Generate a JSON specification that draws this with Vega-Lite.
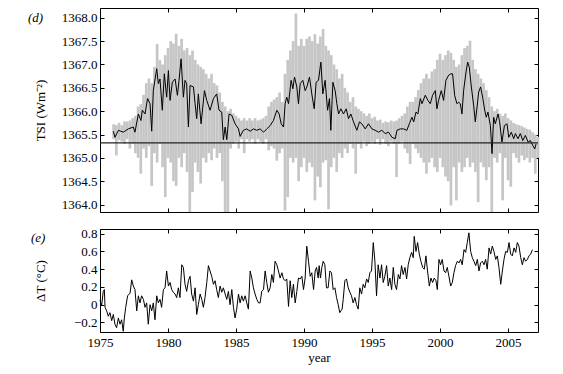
{
"$schema": "https://vega.github.io/schema/vega-lite/v6.json",
"padding": {"left": 27, "top": 7, "right": 24, "bottom": 8},
"spacing": 13,
"datasets": {
"gray": [
{"year":1976.0,"lo":1365.40,"hi":1365.72},{"year":1976.2,"lo":1365.05,"hi":1365.70},{"year":1976.4,"lo":1365.38,"hi":1365.75},{"year":1976.6,"lo":1365.35,"hi":1365.70},{"year":1976.8,"lo":1365.30,"hi":1365.78},
{"year":1977.0,"lo":1365.40,"hi":1365.78},{"year":1977.2,"lo":1365.20,"hi":1365.80},{"year":1977.4,"lo":1365.30,"hi":1365.85},{"year":1977.6,"lo":1365.10,"hi":1365.90},{"year":1977.8,"lo":1365.00,"hi":1366.10},
{"year":1978.0,"lo":1364.66,"hi":1366.15},{"year":1978.2,"lo":1365.20,"hi":1366.35},{"year":1978.4,"lo":1365.00,"hi":1366.60},{"year":1978.6,"lo":1365.25,"hi":1366.70},{"year":1978.8,"lo":1364.40,"hi":1366.60},
{"year":1979.0,"lo":1365.10,"hi":1366.95},{"year":1979.2,"lo":1364.90,"hi":1367.44},{"year":1979.4,"lo":1365.30,"hi":1367.10},{"year":1979.6,"lo":1364.80,"hi":1367.00},{"year":1979.8,"lo":1364.16,"hi":1367.20},
{"year":1980.0,"lo":1365.00,"hi":1367.35},{"year":1980.2,"lo":1364.90,"hi":1367.50},{"year":1980.4,"lo":1364.50,"hi":1367.45},{"year":1980.6,"lo":1364.40,"hi":1367.66},{"year":1980.8,"lo":1365.00,"hi":1367.40},
{"year":1981.0,"lo":1364.80,"hi":1367.55},{"year":1981.2,"lo":1365.10,"hi":1367.30},{"year":1981.4,"lo":1364.70,"hi":1367.35},{"year":1981.6,"lo":1363.84,"hi":1367.20},{"year":1981.8,"lo":1364.27,"hi":1367.30},
{"year":1982.0,"lo":1364.90,"hi":1367.10},{"year":1982.2,"lo":1364.70,"hi":1367.00},{"year":1982.4,"lo":1364.45,"hi":1366.95},{"year":1982.6,"lo":1365.00,"hi":1366.90},{"year":1982.8,"lo":1364.90,"hi":1366.80},
{"year":1983.0,"lo":1365.10,"hi":1366.70},{"year":1983.2,"lo":1364.95,"hi":1366.80},{"year":1983.4,"lo":1365.20,"hi":1366.60},{"year":1983.6,"lo":1365.00,"hi":1366.55},{"year":1983.8,"lo":1365.10,"hi":1366.40},
{"year":1984.0,"lo":1364.50,"hi":1366.20},{"year":1984.2,"lo":1363.84,"hi":1366.10},{"year":1984.4,"lo":1363.84,"hi":1366.00},{"year":1984.6,"lo":1365.20,"hi":1366.05},{"year":1984.8,"lo":1365.30,"hi":1365.95},
{"year":1985.0,"lo":1365.35,"hi":1365.90},{"year":1985.2,"lo":1365.20,"hi":1365.85},{"year":1985.4,"lo":1365.40,"hi":1365.80},{"year":1985.6,"lo":1365.10,"hi":1365.85},{"year":1985.8,"lo":1365.40,"hi":1365.80},
{"year":1986.0,"lo":1365.35,"hi":1365.85},{"year":1986.2,"lo":1365.40,"hi":1365.80},{"year":1986.4,"lo":1365.30,"hi":1365.85},{"year":1986.6,"lo":1365.40,"hi":1365.80},{"year":1986.8,"lo":1365.35,"hi":1365.82},
{"year":1987.0,"lo":1365.30,"hi":1365.85},{"year":1987.2,"lo":1365.40,"hi":1365.90},{"year":1987.4,"lo":1365.16,"hi":1366.10},{"year":1987.6,"lo":1365.25,"hi":1366.20},{"year":1987.8,"lo":1365.20,"hi":1366.25},
{"year":1988.0,"lo":1364.94,"hi":1366.30},{"year":1988.2,"lo":1365.10,"hi":1366.40},{"year":1988.4,"lo":1365.20,"hi":1366.20},{"year":1988.6,"lo":1363.87,"hi":1366.80},{"year":1988.8,"lo":1364.16,"hi":1367.10},
{"year":1989.0,"lo":1365.00,"hi":1367.30},{"year":1989.2,"lo":1364.90,"hi":1367.50},{"year":1989.4,"lo":1365.00,"hi":1368.09},{"year":1989.6,"lo":1364.50,"hi":1367.40},{"year":1989.8,"lo":1364.80,"hi":1367.55},
{"year":1990.0,"lo":1365.00,"hi":1367.40},{"year":1990.2,"lo":1364.70,"hi":1367.55},{"year":1990.4,"lo":1364.90,"hi":1367.60},{"year":1990.6,"lo":1364.80,"hi":1367.50},{"year":1990.8,"lo":1364.09,"hi":1367.65},
{"year":1991.0,"lo":1364.60,"hi":1367.45},{"year":1991.2,"lo":1364.37,"hi":1367.60},{"year":1991.4,"lo":1364.90,"hi":1367.76},{"year":1991.6,"lo":1364.95,"hi":1367.40},{"year":1991.8,"lo":1363.90,"hi":1367.30},
{"year":1992.0,"lo":1364.80,"hi":1367.20},{"year":1992.2,"lo":1365.00,"hi":1367.00},{"year":1992.4,"lo":1364.70,"hi":1366.90},{"year":1992.6,"lo":1365.10,"hi":1366.70},{"year":1992.8,"lo":1365.00,"hi":1366.80},
{"year":1993.0,"lo":1365.20,"hi":1366.50},{"year":1993.2,"lo":1365.10,"hi":1366.40},{"year":1993.4,"lo":1365.30,"hi":1366.20},{"year":1993.6,"lo":1365.20,"hi":1366.30},{"year":1993.8,"lo":1364.66,"hi":1366.10},
{"year":1994.0,"lo":1365.30,"hi":1366.05},{"year":1994.2,"lo":1365.20,"hi":1366.00},{"year":1994.4,"lo":1365.35,"hi":1365.95},{"year":1994.6,"lo":1365.25,"hi":1365.90},{"year":1994.8,"lo":1365.30,"hi":1365.95},
{"year":1995.0,"lo":1365.35,"hi":1365.85},{"year":1995.2,"lo":1365.30,"hi":1365.88},{"year":1995.4,"lo":1365.40,"hi":1365.80},{"year":1995.6,"lo":1365.28,"hi":1365.82},{"year":1995.8,"lo":1365.40,"hi":1365.75},
{"year":1996.0,"lo":1365.30,"hi":1365.78},{"year":1996.2,"lo":1365.25,"hi":1365.76},{"year":1996.4,"lo":1365.35,"hi":1365.80},{"year":1996.6,"lo":1365.30,"hi":1365.78},{"year":1996.8,"lo":1364.59,"hi":1365.80},
{"year":1997.0,"lo":1365.30,"hi":1365.85},{"year":1997.2,"lo":1365.35,"hi":1365.90},{"year":1997.4,"lo":1365.20,"hi":1365.95},{"year":1997.6,"lo":1365.10,"hi":1366.10},{"year":1997.8,"lo":1364.87,"hi":1366.20},
{"year":1998.0,"lo":1365.30,"hi":1366.20},{"year":1998.2,"lo":1365.20,"hi":1366.30},{"year":1998.4,"lo":1365.10,"hi":1366.45},{"year":1998.6,"lo":1365.00,"hi":1366.60},{"year":1998.8,"lo":1364.90,"hi":1366.70},
{"year":1999.0,"lo":1364.66,"hi":1366.80},{"year":1999.2,"lo":1364.90,"hi":1366.70},{"year":1999.4,"lo":1365.00,"hi":1366.85},{"year":1999.6,"lo":1364.80,"hi":1366.90},{"year":1999.8,"lo":1364.70,"hi":1367.10},
{"year":2000.0,"lo":1365.00,"hi":1367.23},{"year":2000.2,"lo":1364.80,"hi":1367.10},{"year":2000.4,"lo":1364.60,"hi":1367.20},{"year":2000.6,"lo":1364.50,"hi":1367.30},{"year":2000.8,"lo":1363.98,"hi":1367.25},
{"year":2001.0,"lo":1364.80,"hi":1367.10},{"year":2001.2,"lo":1364.09,"hi":1366.95},{"year":2001.4,"lo":1364.90,"hi":1367.00},{"year":2001.6,"lo":1364.70,"hi":1367.20},{"year":2001.8,"lo":1364.80,"hi":1367.35},
{"year":2002.0,"lo":1365.00,"hi":1367.40},{"year":2002.2,"lo":1364.80,"hi":1367.51},{"year":2002.4,"lo":1364.90,"hi":1367.10},{"year":2002.6,"lo":1364.70,"hi":1366.90},{"year":2002.8,"lo":1364.05,"hi":1366.80},
{"year":2003.0,"lo":1364.90,"hi":1366.70},{"year":2003.2,"lo":1364.80,"hi":1366.60},{"year":2003.4,"lo":1364.52,"hi":1366.45},{"year":2003.6,"lo":1364.80,"hi":1366.30},{"year":2003.8,"lo":1363.84,"hi":1366.10},
{"year":2004.0,"lo":1365.00,"hi":1366.00},{"year":2004.2,"lo":1364.90,"hi":1366.05},{"year":2004.4,"lo":1365.10,"hi":1365.95},{"year":2004.6,"lo":1364.09,"hi":1365.90},{"year":2004.8,"lo":1365.00,"hi":1365.95},
{"year":2005.0,"lo":1364.52,"hi":1365.85},{"year":2005.2,"lo":1364.38,"hi":1365.80},{"year":2005.4,"lo":1365.10,"hi":1365.75},{"year":2005.6,"lo":1365.00,"hi":1365.72},{"year":2005.8,"lo":1364.90,"hi":1365.70},
{"year":2006.0,"lo":1365.05,"hi":1365.68},{"year":2006.2,"lo":1364.95,"hi":1365.65},{"year":2006.4,"lo":1365.00,"hi":1365.62},{"year":2006.6,"lo":1364.90,"hi":1365.60},{"year":2006.8,"lo":1365.00,"hi":1365.55},
{"year":2007.0,"lo":1364.66,"hi":1365.50},{"year":2007.2,"lo":1365.00,"hi":1365.45}
],
"tsi": [
{"year":1975.98,"tsi":1365.57},{"year":1976.10,"tsi":1365.44},{"year":1976.35,"tsi":1365.59},{"year":1976.71,"tsi":1365.55},{"year":1977.08,"tsi":1365.62},{"year":1977.45,"tsi":1365.66},{"year":1977.57,"tsi":1365.55},{"year":1977.82,"tsi":1365.94},{"year":1978.01,"tsi":1365.80},{"year":1978.11,"tsi":1366.02},
{"year":1978.31,"tsi":1365.94},{"year":1978.50,"tsi":1366.27},{"year":1978.68,"tsi":1366.16},{"year":1978.80,"tsi":1365.57},{"year":1978.92,"tsi":1366.44},{"year":1979.17,"tsi":1366.91},{"year":1979.29,"tsi":1366.59},{"year":1979.41,"tsi":1366.69},{"year":1979.58,"tsi":1366.02},{"year":1979.73,"tsi":1366.80},
{"year":1979.90,"tsi":1366.30},{"year":1980.03,"tsi":1366.87},{"year":1980.15,"tsi":1366.23},{"year":1980.32,"tsi":1366.62},{"year":1980.52,"tsi":1366.69},{"year":1980.69,"tsi":1366.34},{"year":1980.81,"tsi":1366.66},{"year":1980.96,"tsi":1367.12},{"year":1981.13,"tsi":1366.30},{"year":1981.25,"tsi":1366.66},
{"year":1981.37,"tsi":1366.59},{"year":1981.50,"tsi":1365.66},{"year":1981.62,"tsi":1366.55},{"year":1981.87,"tsi":1366.52},{"year":1981.99,"tsi":1366.16},{"year":1982.11,"tsi":1365.84},{"year":1982.23,"tsi":1366.37},{"year":1982.43,"tsi":1365.73},{"year":1982.68,"tsi":1366.44},{"year":1982.85,"tsi":1366.23},
{"year":1983.09,"tsi":1366.02},{"year":1983.34,"tsi":1366.27},{"year":1983.58,"tsi":1366.37},{"year":1983.75,"tsi":1366.02},{"year":1983.95,"tsi":1365.98},{"year":1984.07,"tsi":1365.39},{"year":1984.20,"tsi":1365.66},{"year":1984.32,"tsi":1365.39},{"year":1984.49,"tsi":1365.94},{"year":1984.69,"tsi":1365.91},
{"year":1984.93,"tsi":1365.73},{"year":1985.18,"tsi":1365.62},{"year":1985.30,"tsi":1365.46},{"year":1985.54,"tsi":1365.59},{"year":1985.79,"tsi":1365.62},{"year":1986.04,"tsi":1365.57},{"year":1986.28,"tsi":1365.62},{"year":1986.53,"tsi":1365.59},{"year":1986.77,"tsi":1365.62},{"year":1987.02,"tsi":1365.55},
{"year":1987.26,"tsi":1365.62},{"year":1987.51,"tsi":1365.69},{"year":1987.75,"tsi":1365.80},{"year":1988.00,"tsi":1366.02},{"year":1988.17,"tsi":1365.94},{"year":1988.32,"tsi":1365.73},{"year":1988.49,"tsi":1365.66},{"year":1988.61,"tsi":1366.16},{"year":1988.73,"tsi":1366.30},{"year":1988.86,"tsi":1366.16},
{"year":1989.05,"tsi":1366.66},{"year":1989.18,"tsi":1366.48},{"year":1989.30,"tsi":1366.73},{"year":1989.47,"tsi":1366.52},{"year":1989.59,"tsi":1366.16},{"year":1989.72,"tsi":1366.59},{"year":1989.91,"tsi":1366.66},{"year":1990.08,"tsi":1366.44},{"year":1990.21,"tsi":1366.52},{"year":1990.40,"tsi":1366.73},
{"year":1990.57,"tsi":1366.37},{"year":1990.75,"tsi":1366.05},{"year":1990.89,"tsi":1366.62},{"year":1991.06,"tsi":1366.66},{"year":1991.24,"tsi":1367.05},{"year":1991.38,"tsi":1366.37},{"year":1991.55,"tsi":1366.66},{"year":1991.73,"tsi":1366.02},{"year":1991.87,"tsi":1366.27},{"year":1991.97,"tsi":1365.59},
{"year":1992.12,"tsi":1366.62},{"year":1992.29,"tsi":1366.44},{"year":1992.41,"tsi":1366.16},{"year":1992.54,"tsi":1365.94},{"year":1992.71,"tsi":1366.05},{"year":1992.90,"tsi":1365.94},{"year":1993.10,"tsi":1366.05},{"year":1993.27,"tsi":1365.84},{"year":1993.44,"tsi":1365.94},{"year":1993.64,"tsi":1365.77},
{"year":1993.88,"tsi":1365.59},{"year":1994.08,"tsi":1365.77},{"year":1994.25,"tsi":1365.73},{"year":1994.50,"tsi":1365.62},{"year":1994.74,"tsi":1365.73},{"year":1994.99,"tsi":1365.62},{"year":1995.23,"tsi":1365.59},{"year":1995.48,"tsi":1365.55},{"year":1995.72,"tsi":1365.59},{"year":1995.97,"tsi":1365.52},
{"year":1996.22,"tsi":1365.55},{"year":1996.46,"tsi":1365.44},{"year":1996.71,"tsi":1365.41},{"year":1996.83,"tsi":1365.59},{"year":1997.07,"tsi":1365.62},{"year":1997.32,"tsi":1365.62},{"year":1997.56,"tsi":1365.59},{"year":1997.74,"tsi":1365.73},{"year":1997.93,"tsi":1365.87},{"year":1998.06,"tsi":1365.77},
{"year":1998.23,"tsi":1365.98},{"year":1998.37,"tsi":1365.94},{"year":1998.55,"tsi":1366.27},{"year":1998.67,"tsi":1366.16},{"year":1998.91,"tsi":1366.34},{"year":1999.11,"tsi":1366.23},{"year":1999.28,"tsi":1366.16},{"year":1999.45,"tsi":1366.34},{"year":1999.65,"tsi":1366.44},{"year":1999.77,"tsi":1366.05},
{"year":1999.89,"tsi":1366.23},{"year":2000.09,"tsi":1366.44},{"year":2000.26,"tsi":1366.23},{"year":2000.43,"tsi":1366.66},{"year":2000.63,"tsi":1366.77},{"year":2000.80,"tsi":1366.80},{"year":2000.92,"tsi":1366.80},{"year":2001.07,"tsi":1366.34},{"year":2001.24,"tsi":1366.16},{"year":2001.37,"tsi":1366.19},
{"year":2001.49,"tsi":1366.16},{"year":2001.61,"tsi":1365.94},{"year":2001.73,"tsi":1366.44},{"year":2001.91,"tsi":1366.84},{"year":2002.03,"tsi":1367.05},{"year":2002.15,"tsi":1366.94},{"year":2002.30,"tsi":1366.52},{"year":2002.47,"tsi":1366.12},{"year":2002.59,"tsi":1365.77},{"year":2002.72,"tsi":1366.09},
{"year":2002.84,"tsi":1366.41},{"year":2002.98,"tsi":1366.52},{"year":2003.13,"tsi":1366.30},{"year":2003.28,"tsi":1366.02},{"year":2003.40,"tsi":1365.87},{"year":2003.52,"tsi":1365.98},{"year":2003.70,"tsi":1365.69},{"year":2003.82,"tsi":1365.09},{"year":2003.94,"tsi":1365.87},{"year":2004.06,"tsi":1365.73},
{"year":2004.26,"tsi":1365.94},{"year":2004.38,"tsi":1365.77},{"year":2004.55,"tsi":1365.34},{"year":2004.73,"tsi":1365.69},{"year":2004.92,"tsi":1365.73},{"year":2005.05,"tsi":1365.44},{"year":2005.24,"tsi":1365.55},{"year":2005.41,"tsi":1365.41},{"year":2005.54,"tsi":1365.52},{"year":2005.73,"tsi":1365.41},
{"year":2005.90,"tsi":1365.52},{"year":2006.08,"tsi":1365.37},{"year":2006.27,"tsi":1365.48},{"year":2006.47,"tsi":1365.34},{"year":2006.64,"tsi":1365.37},{"year":2006.81,"tsi":1365.27},{"year":2006.96,"tsi":1365.19},{"year":2007.06,"tsi":1365.30}
],
"temp": [
{"year":1975.00,"dt":0.05},{"year":1975.12,"dt":-0.01},{"year":1975.24,"dt":0.15},{"year":1975.32,"dt":0.17},{"year":1975.37,"dt":-0.03},{"year":1975.49,"dt":-0.07},{"year":1975.61,"dt":-0.13},{"year":1975.73,"dt":-0.09},{"year":1975.86,"dt":-0.18},{"year":1975.98,"dt":-0.11},
{"year":1976.10,"dt":-0.22},{"year":1976.22,"dt":-0.26},{"year":1976.35,"dt":-0.15},{"year":1976.47,"dt":-0.22},{"year":1976.59,"dt":-0.17},{"year":1976.71,"dt":-0.30},{"year":1976.79,"dt":-0.15},{"year":1976.89,"dt":-0.03},{"year":1977.03,"dt":0.10},{"year":1977.21,"dt":0.13},
{"year":1977.33,"dt":0.28},{"year":1977.45,"dt":0.21},{"year":1977.57,"dt":0.17},{"year":1977.70,"dt":-0.07},{"year":1977.82,"dt":0.10},{"year":1977.94,"dt":0.02},{"year":1978.06,"dt":0.10},{"year":1978.19,"dt":0.06},{"year":1978.31,"dt":-0.03},{"year":1978.43,"dt":0.02},
{"year":1978.55,"dt":-0.22},{"year":1978.68,"dt":0.00},{"year":1978.80,"dt":-0.07},{"year":1978.92,"dt":0.02},{"year":1979.04,"dt":-0.17},{"year":1979.17,"dt":0.10},{"year":1979.29,"dt":0.02},{"year":1979.41,"dt":0.06},{"year":1979.53,"dt":-0.03},{"year":1979.66,"dt":0.17},
{"year":1979.78,"dt":0.19},{"year":1979.90,"dt":0.38},{"year":1980.03,"dt":0.21},{"year":1980.15,"dt":0.25},{"year":1980.27,"dt":0.17},{"year":1980.39,"dt":0.14},{"year":1980.52,"dt":0.12},{"year":1980.64,"dt":0.08},{"year":1980.76,"dt":0.19},{"year":1980.88,"dt":0.08},
{"year":1981.01,"dt":0.45},{"year":1981.13,"dt":0.42},{"year":1981.25,"dt":0.23},{"year":1981.37,"dt":0.15},{"year":1981.50,"dt":0.27},{"year":1981.62,"dt":0.32},{"year":1981.74,"dt":0.12},{"year":1981.87,"dt":0.04},{"year":1981.99,"dt":0.19},{"year":1982.11,"dt":-0.11},
{"year":1982.23,"dt":0.00},{"year":1982.36,"dt":0.12},{"year":1982.48,"dt":0.06},{"year":1982.60,"dt":-0.03},{"year":1982.72,"dt":0.08},{"year":1982.85,"dt":0.25},{"year":1982.97,"dt":0.44},{"year":1983.09,"dt":0.38},{"year":1983.21,"dt":0.32},{"year":1983.34,"dt":0.23},
{"year":1983.46,"dt":0.27},{"year":1983.58,"dt":0.17},{"year":1983.70,"dt":0.08},{"year":1983.83,"dt":0.21},{"year":1983.95,"dt":0.14},{"year":1984.07,"dt":0.19},{"year":1984.20,"dt":0.12},{"year":1984.32,"dt":0.06},{"year":1984.44,"dt":0.15},{"year":1984.56,"dt":0.00},
{"year":1984.69,"dt":0.17},{"year":1984.81,"dt":-0.03},{"year":1984.93,"dt":-0.15},{"year":1985.05,"dt":-0.05},{"year":1985.18,"dt":0.12},{"year":1985.30,"dt":0.02},{"year":1985.42,"dt":0.10},{"year":1985.54,"dt":0.04},{"year":1985.67,"dt":0.10},{"year":1985.79,"dt":0.02},
{"year":1985.91,"dt":-0.05},{"year":1986.04,"dt":0.38},{"year":1986.16,"dt":0.30},{"year":1986.28,"dt":0.19},{"year":1986.40,"dt":0.12},{"year":1986.53,"dt":0.06},{"year":1986.65,"dt":0.02},{"year":1986.77,"dt":0.02},{"year":1986.89,"dt":0.15},{"year":1987.02,"dt":0.17},
{"year":1987.14,"dt":0.38},{"year":1987.26,"dt":0.25},{"year":1987.38,"dt":0.14},{"year":1987.51,"dt":0.19},{"year":1987.63,"dt":0.34},{"year":1987.75,"dt":0.25},{"year":1987.87,"dt":0.49},{"year":1988.00,"dt":0.45},{"year":1988.12,"dt":0.38},{"year":1988.24,"dt":0.30},
{"year":1988.37,"dt":0.36},{"year":1988.49,"dt":0.29},{"year":1988.61,"dt":0.27},{"year":1988.73,"dt":0.29},{"year":1988.86,"dt":-0.02},{"year":1988.98,"dt":0.27},{"year":1989.10,"dt":0.08},{"year":1989.22,"dt":0.23},{"year":1989.35,"dt":0.02},{"year":1989.47,"dt":0.15},
{"year":1989.59,"dt":0.30},{"year":1989.71,"dt":0.29},{"year":1989.84,"dt":0.32},{"year":1989.96,"dt":0.17},{"year":1990.08,"dt":0.30},{"year":1990.20,"dt":0.66},{"year":1990.33,"dt":0.49},{"year":1990.45,"dt":0.32},{"year":1990.57,"dt":0.36},{"year":1990.70,"dt":0.17},
{"year":1990.82,"dt":0.38},{"year":1990.92,"dt":0.42},{"year":1991.04,"dt":0.30},{"year":1991.11,"dt":0.44},{"year":1991.21,"dt":0.30},{"year":1991.31,"dt":0.42},{"year":1991.41,"dt":0.49},{"year":1991.53,"dt":0.45},{"year":1991.65,"dt":0.19},{"year":1991.77,"dt":0.19},
{"year":1991.90,"dt":0.38},{"year":1992.02,"dt":0.36},{"year":1992.14,"dt":0.17},{"year":1992.27,"dt":0.19},{"year":1992.39,"dt":0.08},{"year":1992.51,"dt":0.00},{"year":1992.63,"dt":-0.09},{"year":1992.71,"dt":-0.07},{"year":1992.80,"dt":-0.05},{"year":1992.88,"dt":0.06},
{"year":1993.00,"dt":0.27},{"year":1993.12,"dt":0.29},{"year":1993.25,"dt":0.19},{"year":1993.37,"dt":0.14},{"year":1993.49,"dt":0.10},{"year":1993.61,"dt":0.02},{"year":1993.74,"dt":0.08},{"year":1993.86,"dt":0.00},{"year":1993.98,"dt":-0.05},{"year":1994.10,"dt":0.19},
{"year":1994.23,"dt":0.12},{"year":1994.35,"dt":0.23},{"year":1994.47,"dt":0.19},{"year":1994.60,"dt":0.29},{"year":1994.72,"dt":0.25},{"year":1994.84,"dt":0.36},{"year":1994.96,"dt":0.38},{"year":1995.09,"dt":0.70},{"year":1995.21,"dt":0.49},{"year":1995.33,"dt":0.10},
{"year":1995.45,"dt":0.45},{"year":1995.58,"dt":0.30},{"year":1995.70,"dt":0.45},{"year":1995.82,"dt":0.25},{"year":1995.94,"dt":0.32},{"year":1996.07,"dt":0.44},{"year":1996.19,"dt":0.21},{"year":1996.31,"dt":0.30},{"year":1996.44,"dt":0.17},{"year":1996.56,"dt":0.42},
{"year":1996.68,"dt":0.23},{"year":1996.80,"dt":0.17},{"year":1996.93,"dt":0.34},{"year":1997.05,"dt":0.29},{"year":1997.17,"dt":0.44},{"year":1997.29,"dt":0.34},{"year":1997.42,"dt":0.42},{"year":1997.54,"dt":0.29},{"year":1997.66,"dt":0.45},{"year":1997.78,"dt":0.53},
{"year":1997.91,"dt":0.59},{"year":1998.03,"dt":0.53},{"year":1998.10,"dt":0.77},{"year":1998.23,"dt":0.60},{"year":1998.35,"dt":0.70},{"year":1998.47,"dt":0.57},{"year":1998.59,"dt":0.49},{"year":1998.72,"dt":0.42},{"year":1998.84,"dt":0.40},{"year":1998.96,"dt":0.55},
{"year":1999.08,"dt":0.38},{"year":1999.21,"dt":0.21},{"year":1999.33,"dt":0.30},{"year":1999.45,"dt":0.25},{"year":1999.57,"dt":0.30},{"year":1999.70,"dt":0.27},{"year":1999.80,"dt":0.17},{"year":1999.92,"dt":0.51},{"year":2000.04,"dt":0.45},{"year":2000.16,"dt":0.51},
{"year":2000.29,"dt":0.38},{"year":2000.41,"dt":0.36},{"year":2000.53,"dt":0.42},{"year":2000.65,"dt":0.32},{"year":2000.78,"dt":0.21},{"year":2000.90,"dt":0.25},{"year":2001.02,"dt":0.36},{"year":2001.14,"dt":0.44},{"year":2001.27,"dt":0.49},{"year":2001.39,"dt":0.47},
{"year":2001.51,"dt":0.51},{"year":2001.63,"dt":0.45},{"year":2001.76,"dt":0.62},{"year":2001.88,"dt":0.59},{"year":2002.00,"dt":0.70},{"year":2002.12,"dt":0.81},{"year":2002.25,"dt":0.60},{"year":2002.37,"dt":0.53},{"year":2002.49,"dt":0.49},{"year":2002.62,"dt":0.44},
{"year":2002.74,"dt":0.51},{"year":2002.86,"dt":0.38},{"year":2002.98,"dt":0.47},{"year":2003.11,"dt":0.49},{"year":2003.23,"dt":0.45},{"year":2003.35,"dt":0.51},{"year":2003.47,"dt":0.40},{"year":2003.60,"dt":0.64},{"year":2003.72,"dt":0.57},{"year":2003.84,"dt":0.66},
{"year":2003.96,"dt":0.60},{"year":2004.09,"dt":0.51},{"year":2004.21,"dt":0.55},{"year":2004.33,"dt":0.42},{"year":2004.46,"dt":0.23},{"year":2004.58,"dt":0.38},{"year":2004.70,"dt":0.51},{"year":2004.82,"dt":0.60},{"year":2004.95,"dt":0.59},{"year":2005.07,"dt":0.70},
{"year":2005.19,"dt":0.57},{"year":2005.31,"dt":0.55},{"year":2005.44,"dt":0.64},{"year":2005.56,"dt":0.59},{"year":2005.68,"dt":0.70},{"year":2005.80,"dt":0.66},{"year":2005.93,"dt":0.53},{"year":2006.05,"dt":0.45},{"year":2006.17,"dt":0.53},{"year":2006.29,"dt":0.49},
{"year":2006.42,"dt":0.51},{"year":2006.54,"dt":0.55},{"year":2006.66,"dt":0.57},{"year":2006.79,"dt":0.62}
],
"ref": [{"tsi": 1365.32}],
"labd": [{"year": 1975, "y": 1368.0, "label": "(d)"}],
"labe": [{"year": 1975, "y": 0.755, "label": "(e)"}]
},
"vconcat": [
{
"width": 438, "height": 204,
"layer": [
{"data": {"name": "gray"}, "mark": {"type": "rule", "color": "#c6c6c6", "strokeWidth": 2.7},
 "encoding": {
  "x": {"field": "year", "type": "quantitative", "scale": {"domain": [1975, 2007.2], "nice": false, "zero": false},
        "axis": {"orient": "bottom", "values": [1975, 1980, 1985, 1990, 1995, 2000, 2005], "labels": false, "title": null}},
  "y": {"field": "lo", "type": "quantitative", "scale": {"domain": [1363.84, 1368.21], "nice": false, "zero": false},
        "axis": {"orient": "left", "values": [1364, 1364.5, 1365, 1365.5, 1366, 1366.5, 1367, 1367.5, 1368], "format": ".1f", "title": "TSI (Wm⁻²)", "titleX": -53, "labelPadding": 7}},
  "y2": {"field": "hi"}}},
{"data": {"name": "tsi"}, "mark": {"type": "line", "color": "black", "strokeWidth": 1},
 "encoding": {"x": {"field": "year", "type": "quantitative", "axis": null}, "y": {"field": "tsi", "type": "quantitative", "axis": null}}},
{"data": {"name": "ref"}, "mark": {"type": "rule", "color": "#222222", "strokeWidth": 1.2},
 "encoding": {"y": {"field": "tsi", "type": "quantitative", "axis": null}}},
{"data": {"name": "labd"}, "mark": {"type": "text", "align": "left", "baseline": "middle", "dx": -72, "font": "Liberation Serif", "fontSize": 13, "fontStyle": "italic", "color": "black"},
 "encoding": {"x": {"field": "year", "type": "quantitative", "axis": null}, "y": {"field": "y", "type": "quantitative", "axis": null}, "text": {"field": "label"}}},
{"data": {"name": "tsi"}, "mark": {"type": "point", "opacity": 0, "size": 1},
 "encoding": {
  "x": {"field": "year", "type": "quantitative", "axis": {"orient": "top", "values": [1975, 1980, 1985, 1990, 1995, 2000, 2005], "labels": false, "title": null}},
  "y": {"field": "tsi", "type": "quantitative", "axis": {"orient": "right", "values": [1364, 1364.5, 1365, 1365.5, 1366, 1366.5, 1367, 1367.5, 1368], "labels": false, "title": null}}}}
],
"resolve": {"axis": {"x": "independent", "y": "independent"}}
},
{
"width": 438, "height": 103,
"layer": [
{"data": {"name": "temp"}, "mark": {"type": "line", "color": "black", "strokeWidth": 1},
 "encoding": {
  "x": {"field": "year", "type": "quantitative", "scale": {"domain": [1975, 2007.2], "nice": false, "zero": false},
        "axis": {"orient": "bottom", "values": [1975, 1980, 1985, 1990, 1995, 2000, 2005], "format": "d", "title": "year", "labelPadding": 8, "titlePadding": 2}},
  "y": {"field": "dt", "type": "quantitative", "scale": {"domain": [-0.308, 0.853], "nice": false, "zero": false},
        "axis": {"orient": "left", "values": [-0.2, 0, 0.2, 0.4, 0.6, 0.8], "labelExpr": "datum.value == 0 ? '0' : format(datum.value, '.1f')", "title": "ΔT (°C)", "titleX": -53, "labelPadding": 7}}}},
{"data": {"name": "labe"}, "mark": {"type": "text", "align": "left", "baseline": "middle", "dx": -69, "font": "Liberation Serif", "fontSize": 13, "fontStyle": "italic", "color": "black"},
 "encoding": {"x": {"field": "year", "type": "quantitative", "axis": null}, "y": {"field": "y", "type": "quantitative", "axis": null}, "text": {"field": "label"}}},
{"data": {"name": "temp"}, "mark": {"type": "point", "opacity": 0, "size": 1},
 "encoding": {
  "x": {"field": "year", "type": "quantitative", "axis": {"orient": "top", "values": [1975, 1980, 1985, 1990, 1995, 2000, 2005], "labels": false, "title": null}},
  "y": {"field": "dt", "type": "quantitative", "axis": {"orient": "right", "values": [-0.2, 0, 0.2, 0.4, 0.6, 0.8], "labels": false, "title": null}}}}
],
"resolve": {"axis": {"x": "independent", "y": "independent"}}
}
],
"config": {
 "view": {"stroke": "black", "strokeWidth": 1},
 "axis": {"domain": false, "grid": false, "ticks": true, "tickColor": "black", "tickSize": -4, "tickWidth": 1, "labelFlush": false,
          "labelFont": "Liberation Serif", "labelFontSize": 13, "labelColor": "black",
          "titleFont": "Liberation Serif", "titleFontSize": 13, "titleFontWeight": "normal", "titleColor": "black"}
}
}
